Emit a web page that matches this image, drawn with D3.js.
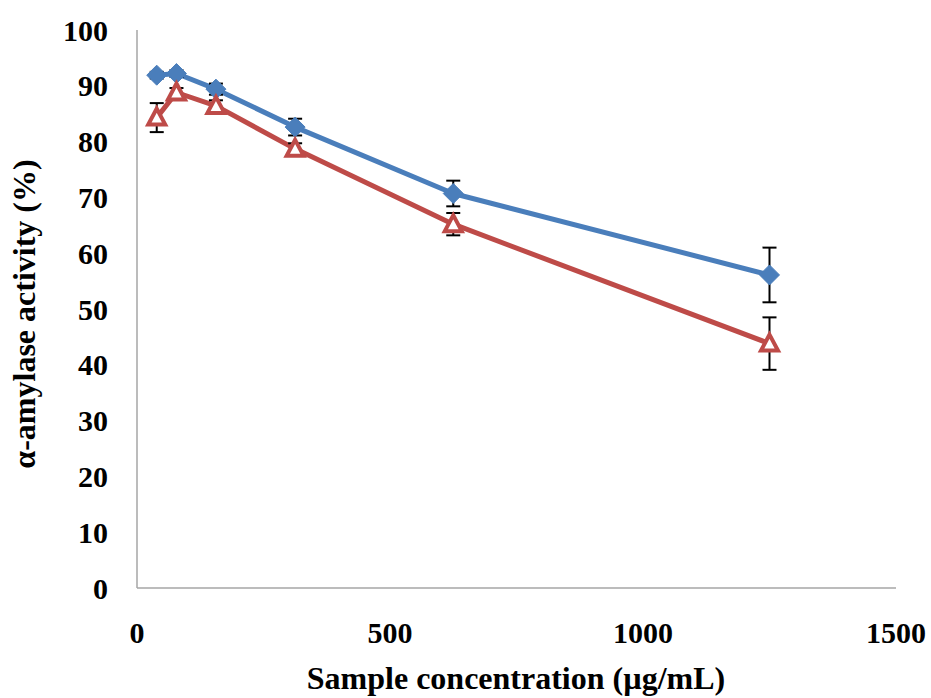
<!DOCTYPE html>
<html>
<head>
<meta charset="utf-8">
<script src="https://cdn.jsdelivr.net/npm/d3@7"></script>
<style>
html,body{margin:0;padding:0;background:#fff;}
svg{display:block;}
text{font-family:"Liberation Serif","Times New Roman",serif;font-weight:bold;fill:#000;}
</style>
</head>
<body>
<svg id="chart" width="931" height="698"></svg>
<script>
const concentrations = [39, 78, 156, 312.5, 625, 1250];
const seriesA = [91.9, 92.2, 89.4, 82.6, 70.7, 56.1];
const errorsA = [0.6, 0.6, 1.0, 1.5, 2.3, 4.9];
const seriesB = [84.3, 88.8, 86.4, 78.7, 65.2, 43.8];
const errorsB = [2.6, 0.8, 1.0, 1.0, 2.0, 4.7];
const xTicks = [0, 500, 1000, 1500];
const yTicks = [0, 10, 20, 30, 40, 50, 60, 70, 80, 90, 100];

const svg = d3.select("#chart");
const x = d3.scaleLinear().domain([0, 1500]).range([137, 896]);
const y = d3.scaleLinear().domain([0, 100]).range([588, 30]);

// axes lines
svg.append("line").attr("x1",137).attr("x2",137).attr("y1",y(100)).attr("y2",y(0))
  .attr("stroke","#a6a6a6").attr("stroke-width",1.5);
svg.append("line").attr("x1",x(0)).attr("x2",x(1500)).attr("y1",588).attr("y2",588)
  .attr("stroke","#a6a6a6").attr("stroke-width",1.5);

// tick labels
svg.selectAll(".yt").data(yTicks).enter().append("text")
  .attr("x",108).attr("y",d=>y(d)).attr("dy","0.35em").attr("text-anchor","end")
  .attr("font-size",30).text(d=>d);
svg.selectAll(".xt").data(xTicks).enter().append("text")
  .attr("x",d=>x(d)).attr("y",632).attr("dy","0.35em").attr("text-anchor","middle")
  .attr("font-size",30).text(d=>d);

// axis titles
svg.append("text").attr("x",516).attr("y",689).attr("text-anchor","middle")
  .attr("font-size",32).text("Sample concentration (µg/mL)");
svg.append("text").attr("transform","translate(35,314) rotate(-90)").attr("text-anchor","middle")
  .attr("font-size",32).text("α-amylase activity (%)");

const dataA = concentrations.map((c,i)=>({c, v:seriesA[i], e:errorsA[i]}));
const dataB = concentrations.map((c,i)=>({c, v:seriesB[i], e:errorsB[i]}));
const line = d3.line().x(d=>x(d.c)).y(d=>y(d.v));

// lines
svg.append("path").datum(dataA).attr("d",line).attr("fill","none")
  .attr("stroke","#4a7ebb").attr("stroke-width",5).attr("stroke-linejoin","round");
svg.append("path").datum(dataB).attr("d",line).attr("fill","none")
  .attr("stroke","#be4b48").attr("stroke-width",5).attr("stroke-linejoin","round");

// error bars
function errBars(data){
  const g = svg.append("g").attr("stroke","#000").attr("stroke-width",2);
  data.forEach(d=>{
    g.append("line").attr("x1",x(d.c)).attr("x2",x(d.c)).attr("y1",y(d.v+d.e)).attr("y2",y(d.v-d.e));
    g.append("line").attr("x1",x(d.c)-7).attr("x2",x(d.c)+7).attr("y1",y(d.v+d.e)).attr("y2",y(d.v+d.e));
    g.append("line").attr("x1",x(d.c)-7).attr("x2",x(d.c)+7).attr("y1",y(d.v-d.e)).attr("y2",y(d.v-d.e));
  });
}
errBars(dataA);
errBars(dataB);

// markers A: diamonds
svg.selectAll(".mA").data(dataA).enter().append("path")
  .attr("transform",d=>`translate(${x(d.c)},${y(d.v)})`)
  .attr("d","M0,-10L10,0L0,10L-10,0Z").attr("fill","#4a7ebb").attr("stroke","#4a7ebb").attr("stroke-width",1);

// markers B: hollow triangles
svg.selectAll(".mB").data(dataB).enter().append("path")
  .attr("transform",d=>`translate(${x(d.c)},${y(d.v)})`)
  .attr("d","M0,-9L8.5,7L-8.5,7Z").attr("fill","#fff").attr("stroke","#be4b48")
  .attr("stroke-width",4).attr("stroke-linejoin","miter");
</script>
</body>
</html>
